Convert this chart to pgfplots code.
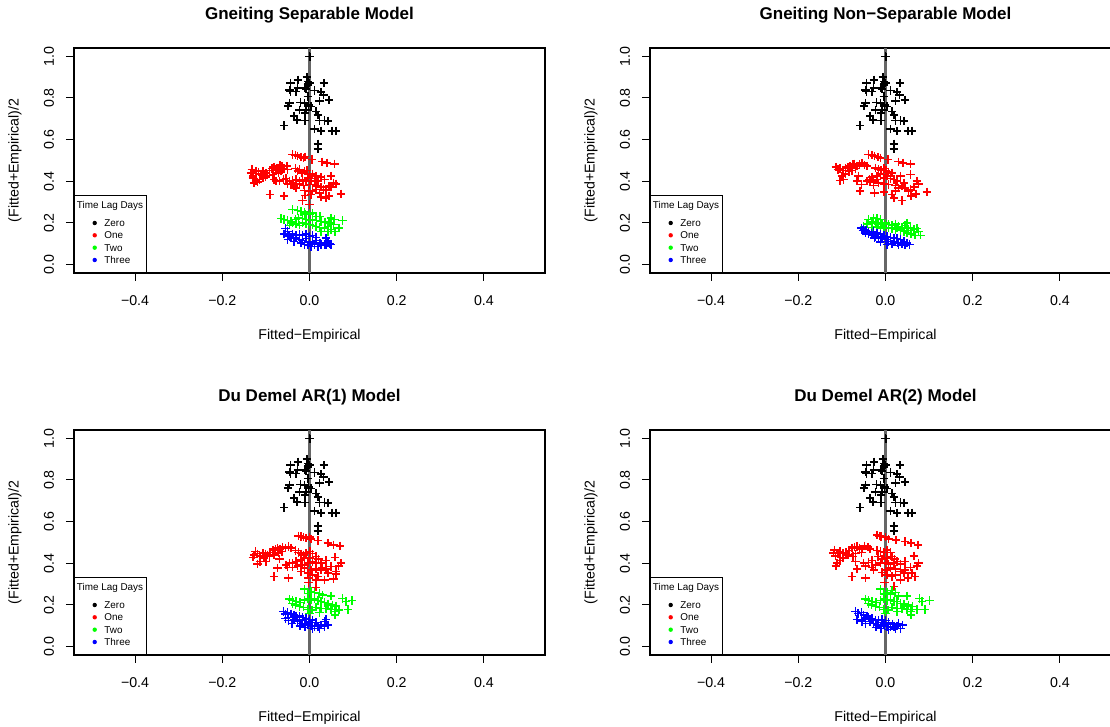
\documentclass[border=0pt]{standalone}
\usepackage{fontspec}
\setmainfont{Liberation Sans}
\usepackage{pgfplots}
\usepackage{pgfplotstable}
\pgfplotsset{compat=1.18}

\definecolor{rred}{HTML}{FF0000}
\definecolor{rgreen}{HTML}{00FF00}
\definecolor{rblue}{HTML}{0000FF}
\definecolor{vline}{HTML}{666666}

% lag zero (same in every panel)
\pgfplotstableread{
x y
0.000 1.000
0.001 0.998
-0.006 0.900
-0.003 0.879
0.000 0.871
-0.004 0.863
-0.044 0.871
-0.026 0.887
0.033 0.871
-0.046 0.839
-0.044 0.831
-0.027 0.847
-0.031 0.831
-0.012 0.850
-0.008 0.842
0.011 0.836
0.026 0.828
0.032 0.815
0.045 0.791
0.023 0.786
-0.004 0.807
-0.046 0.775
-0.049 0.762
-0.021 0.778
-0.012 0.775
-0.002 0.767
0.003 0.759
-0.023 0.743
-0.008 0.743
-0.010 0.727
0.015 0.735
0.019 0.719
-0.035 0.714
-0.029 0.695
-0.010 0.692
0.023 0.692
0.034 0.692
0.042 0.690
-0.058 0.667
0.011 0.651
0.026 0.642
0.051 0.642
0.061 0.642
0.019 0.580
0.019 0.555
}\zeroall

% ---- Gneiting separable
\pgfplotstableread{
x y
-0.039 0.529
-0.032 0.526
-0.027 0.521
-0.019 0.516
-0.014 0.513
-0.010 0.518
0.006 0.505
0.029 0.494
0.040 0.489
0.057 0.484
-0.132 0.457
-0.134 0.441
-0.129 0.425
-0.130 0.417
-0.123 0.449
-0.117 0.446
-0.111 0.436
-0.107 0.449
-0.100 0.441
-0.092 0.452
-0.086 0.462
-0.081 0.468
-0.077 0.457
-0.073 0.465
-0.068 0.478
-0.063 0.473
-0.058 0.462
-0.052 0.473
-0.050 0.457
-0.065 0.449
-0.071 0.441
-0.084 0.433
-0.096 0.429
-0.101 0.420
-0.107 0.417
-0.115 0.409
-0.123 0.401
-0.127 0.393
-0.119 0.397
-0.081 0.409
-0.077 0.401
-0.032 0.462
-0.027 0.449
-0.023 0.457
-0.017 0.441
-0.012 0.449
-0.006 0.452
0.000 0.433
0.007 0.436
-0.004 0.417
0.003 0.413
0.015 0.425
0.026 0.420
0.034 0.409
0.019 0.401
0.011 0.404
0.003 0.401
-0.008 0.401
-0.016 0.409
-0.023 0.401
-0.031 0.409
-0.039 0.404
-0.046 0.401
-0.054 0.413
-0.060 0.409
-0.069 0.401
-0.050 0.388
-0.042 0.385
-0.035 0.377
-0.023 0.388
-0.014 0.381
0.000 0.385
0.015 0.377
0.026 0.372
0.049 0.425
0.055 0.393
0.061 0.388
0.045 0.377
0.038 0.356
0.032 0.361
0.015 0.361
0.007 0.353
-0.002 0.353
-0.012 0.356
-0.031 0.369
-0.058 0.329
-0.091 0.337
-0.010 0.333
0.003 0.337
-0.016 0.308
0.000 0.288
0.026 0.324
0.038 0.321
0.045 0.329
0.072 0.340
0.023 0.345
0.049 0.372
}\oneA
\pgfplotstableread{
x y
-0.039 0.264
-0.027 0.260
-0.019 0.256
-0.012 0.253
-0.010 0.244
0.000 0.240
0.007 0.248
0.015 0.232
0.024 0.232
-0.065 0.221
-0.058 0.216
-0.050 0.212
-0.042 0.208
-0.032 0.216
-0.025 0.224
-0.016 0.221
-0.008 0.216
0.000 0.212
0.007 0.216
0.016 0.212
0.026 0.208
0.036 0.205
0.045 0.200
0.049 0.224
0.057 0.216
0.076 0.212
0.068 0.176
0.059 0.160
0.049 0.168
0.042 0.184
0.034 0.176
0.023 0.179
0.015 0.184
0.007 0.189
0.000 0.192
-0.008 0.196
-0.016 0.200
-0.023 0.189
-0.031 0.196
-0.039 0.200
-0.046 0.189
0.042 0.160
0.026 0.160
0.055 0.192
}\twoA
\pgfplotstableread{
x y
-0.055 0.173
-0.050 0.160
-0.058 0.147
-0.048 0.141
-0.039 0.147
-0.031 0.141
-0.023 0.144
-0.016 0.141
-0.008 0.147
0.000 0.136
0.007 0.141
0.015 0.131
-0.031 0.128
-0.023 0.120
-0.016 0.115
-0.008 0.125
0.000 0.112
0.007 0.104
0.015 0.115
0.024 0.104
0.034 0.096
0.042 0.104
0.049 0.096
-0.019 0.104
-0.012 0.096
-0.004 0.093
0.003 0.088
0.011 0.096
0.019 0.088
0.026 0.096
0.038 0.128
-0.035 0.112
-0.042 0.128
-0.050 0.120
-0.046 0.136
0.038 0.093
0.047 0.099
}\threeA

% ---- Gneiting non-separable
\pgfplotstableread{
x y
-0.039 0.529
-0.031 0.526
-0.025 0.521
-0.017 0.516
-0.012 0.513
0.006 0.505
0.030 0.494
0.040 0.489
0.057 0.484
-0.114 0.468
-0.109 0.457
-0.104 0.462
-0.098 0.452
-0.092 0.462
-0.086 0.468
-0.081 0.473
-0.075 0.481
-0.071 0.484
-0.065 0.473
-0.060 0.481
-0.054 0.487
-0.048 0.478
-0.042 0.473
-0.069 0.462
-0.077 0.452
-0.084 0.446
-0.092 0.436
-0.100 0.425
-0.096 0.409
-0.104 0.404
-0.062 0.425
-0.065 0.401
-0.055 0.385
-0.058 0.353
-0.023 0.465
-0.016 0.457
-0.010 0.452
-0.004 0.462
0.001 0.452
0.007 0.446
0.015 0.441
-0.012 0.436
-0.019 0.425
-0.031 0.420
-0.037 0.409
-0.042 0.401
-0.035 0.397
-0.027 0.401
-0.019 0.409
-0.004 0.417
0.003 0.425
0.011 0.413
0.019 0.409
0.026 0.401
0.034 0.425
0.057 0.433
0.042 0.393
0.038 0.377
0.030 0.369
0.023 0.381
0.007 0.385
-0.004 0.388
-0.016 0.393
-0.027 0.381
-0.025 0.345
-0.004 0.349
0.019 0.321
0.038 0.308
0.015 0.337
0.023 0.353
0.045 0.369
0.057 0.361
0.072 0.401
0.076 0.388
0.070 0.340
0.059 0.329
0.095 0.349
0.053 0.353
0.065 0.372
}\oneB
\pgfplotstableread{
x y
-0.039 0.216
-0.027 0.224
-0.019 0.221
-0.012 0.216
-0.031 0.205
-0.042 0.196
-0.050 0.184
-0.023 0.200
-0.016 0.192
-0.008 0.196
0.000 0.200
0.007 0.192
0.015 0.189
0.023 0.196
0.030 0.184
0.038 0.179
0.045 0.189
0.049 0.200
0.057 0.176
0.065 0.168
0.072 0.173
0.076 0.160
0.080 0.141
0.068 0.141
0.059 0.147
0.049 0.152
0.042 0.160
0.034 0.163
0.023 0.168
0.015 0.173
0.007 0.176
-0.004 0.179
-0.012 0.176
-0.019 0.184
-0.031 0.179
0.026 0.176
0.053 0.163
}\twoB
\pgfplotstableread{
x y
-0.055 0.176
-0.050 0.168
-0.045 0.163
-0.039 0.157
-0.032 0.152
-0.027 0.160
-0.019 0.152
-0.012 0.147
-0.004 0.141
0.003 0.136
0.011 0.131
0.019 0.128
0.026 0.125
0.034 0.120
0.042 0.112
0.049 0.104
0.055 0.096
0.045 0.093
0.038 0.099
0.029 0.104
0.019 0.109
0.007 0.112
0.000 0.120
-0.008 0.125
-0.016 0.131
-0.023 0.136
-0.031 0.141
-0.039 0.147
-0.046 0.152
-0.052 0.163
-0.025 0.128
-0.012 0.109
0.003 0.096
0.015 0.099
0.030 0.093
}\threeB

% ---- Du Demel AR(1)
\pgfplotstableread{
x y
-0.025 0.532
-0.019 0.529
-0.014 0.526
-0.008 0.521
0.000 0.526
0.003 0.516
0.019 0.510
0.042 0.497
0.055 0.489
0.070 0.484
-0.124 0.457
-0.127 0.441
-0.130 0.429
-0.119 0.446
-0.114 0.436
-0.107 0.449
-0.101 0.446
-0.096 0.441
-0.091 0.452
-0.084 0.462
-0.078 0.468
-0.073 0.473
-0.068 0.468
-0.062 0.478
-0.055 0.473
-0.048 0.481
-0.042 0.473
-0.063 0.457
-0.071 0.449
-0.081 0.441
-0.092 0.433
-0.104 0.425
-0.114 0.409
-0.119 0.397
-0.100 0.409
-0.069 0.420
-0.073 0.377
-0.081 0.337
-0.048 0.329
-0.032 0.462
-0.025 0.452
-0.019 0.446
-0.014 0.441
-0.008 0.449
0.001 0.457
0.007 0.446
0.015 0.433
0.021 0.420
0.000 0.425
-0.012 0.425
-0.019 0.417
-0.031 0.409
-0.039 0.401
-0.046 0.401
-0.054 0.393
-0.050 0.381
-0.039 0.381
-0.027 0.388
-0.016 0.393
-0.004 0.401
0.007 0.409
0.015 0.401
0.026 0.401
0.038 0.413
0.059 0.429
0.072 0.401
0.067 0.388
0.049 0.385
0.038 0.372
0.026 0.369
0.015 0.372
0.003 0.369
-0.004 0.353
0.007 0.345
0.019 0.337
0.042 0.353
0.061 0.361
0.055 0.324
0.034 0.321
0.015 0.321
-0.002 0.329
-0.002 0.308
0.061 0.349
0.030 0.381
-0.012 0.377
-0.019 0.361
0.015 0.285
}\oneC
\pgfplotstableread{
x y
-0.012 0.276
0.003 0.264
-0.004 0.256
0.011 0.260
0.023 0.256
0.030 0.248
0.049 0.244
-0.046 0.228
-0.039 0.221
-0.031 0.216
-0.022 0.212
-0.012 0.224
-0.004 0.232
0.003 0.224
0.011 0.228
0.019 0.221
0.026 0.216
0.034 0.212
0.042 0.205
0.053 0.200
0.061 0.196
0.076 0.232
0.084 0.216
0.097 0.221
0.088 0.179
0.068 0.176
0.059 0.168
0.049 0.179
0.038 0.184
0.026 0.184
0.015 0.189
0.006 0.176
-0.004 0.179
-0.014 0.189
-0.023 0.192
-0.032 0.200
-0.039 0.208
0.000 0.160
0.023 0.163
0.059 0.152
0.042 0.200
}\twoC
\pgfplotstableread{
x y
-0.060 0.168
-0.055 0.157
-0.050 0.163
-0.042 0.157
-0.035 0.152
-0.055 0.136
-0.048 0.141
-0.039 0.141
-0.031 0.147
-0.023 0.147
-0.016 0.141
-0.008 0.136
0.000 0.131
0.007 0.128
-0.035 0.128
-0.027 0.120
-0.019 0.112
-0.012 0.109
-0.004 0.104
0.003 0.099
0.011 0.096
0.019 0.096
0.026 0.104
0.034 0.096
0.042 0.104
0.034 0.120
0.015 0.115
-0.002 0.120
-0.016 0.128
-0.022 0.099
-0.010 0.093
0.007 0.088
0.023 0.088
0.038 0.131
-0.048 0.125
-0.040 0.112
}\threeC

% ---- Du Demel AR(2)
\pgfplotstableread{
x y
-0.019 0.537
-0.014 0.532
-0.010 0.529
0.000 0.526
0.007 0.516
0.024 0.513
0.045 0.505
0.059 0.497
0.075 0.489
-0.117 0.465
-0.119 0.449
-0.115 0.436
-0.109 0.446
-0.104 0.457
-0.098 0.449
-0.091 0.452
-0.084 0.462
-0.077 0.473
-0.071 0.478
-0.065 0.481
-0.060 0.473
-0.054 0.468
-0.048 0.484
-0.040 0.478
-0.035 0.468
-0.055 0.452
-0.069 0.446
-0.075 0.433
-0.086 0.441
-0.098 0.425
-0.104 0.413
-0.111 0.401
-0.114 0.388
-0.069 0.409
-0.065 0.372
-0.077 0.337
-0.046 0.329
-0.019 0.462
-0.012 0.457
-0.004 0.452
0.003 0.465
0.011 0.452
0.015 0.433
0.021 0.420
0.003 0.425
-0.008 0.420
-0.017 0.433
-0.031 0.413
-0.039 0.404
-0.050 0.401
-0.046 0.388
-0.031 0.381
-0.023 0.393
-0.012 0.401
0.000 0.404
0.007 0.397
0.019 0.401
0.026 0.409
0.034 0.397
0.045 0.409
0.065 0.436
0.076 0.401
0.072 0.388
0.057 0.381
0.045 0.369
0.034 0.361
0.023 0.372
0.011 0.377
0.000 0.369
-0.008 0.356
0.003 0.345
0.023 0.345
0.042 0.353
0.061 0.353
0.068 0.337
0.052 0.329
0.034 0.321
0.015 0.337
-0.002 0.308
0.019 0.288
-0.027 0.369
}\oneD
\pgfplotstableread{
x y
-0.012 0.276
0.015 0.269
0.003 0.260
-0.004 0.253
0.011 0.253
0.023 0.260
0.030 0.244
0.049 0.244
-0.046 0.228
-0.039 0.221
-0.031 0.216
-0.022 0.212
-0.012 0.221
-0.004 0.228
0.003 0.221
0.011 0.224
0.019 0.216
0.026 0.216
0.034 0.208
0.042 0.205
0.053 0.200
0.062 0.192
0.078 0.232
0.084 0.216
0.101 0.221
0.091 0.179
0.072 0.179
0.059 0.168
0.049 0.179
0.038 0.184
0.026 0.184
0.015 0.189
0.006 0.176
-0.004 0.179
-0.014 0.189
-0.023 0.192
-0.032 0.200
-0.039 0.208
0.000 0.160
0.026 0.168
0.059 0.152
0.042 0.196
}\twoD
\pgfplotstableread{
x y
-0.069 0.168
-0.063 0.160
-0.055 0.163
-0.050 0.152
-0.042 0.147
-0.065 0.131
-0.055 0.128
-0.046 0.136
-0.039 0.141
-0.031 0.136
-0.023 0.128
-0.016 0.125
-0.008 0.131
0.000 0.125
0.007 0.115
-0.035 0.120
-0.027 0.112
-0.019 0.104
-0.012 0.099
-0.004 0.104
0.003 0.096
0.011 0.093
0.019 0.096
0.026 0.099
0.034 0.088
0.039 0.104
0.030 0.112
0.016 0.109
-0.008 0.115
-0.022 0.093
-0.010 0.088
0.007 0.083
0.023 0.086
-0.046 0.112
-0.054 0.120
}\threeD

\pgfplotsset{
  panel/.style={
    scale only axis, width=235.5pt, height=112.5pt,
    xmin=-0.54, xmax=0.54, ymin=-0.04, ymax=1.04,
    axis line style={line width=0.6pt},
    tick pos=left, tick align=outside, major tick length=4pt,
    tick style={black, line width=0.5pt},
    xtick={-0.4,-0.2,0,0.2,0.4},
    xticklabels={−0.4,−0.2,0.0,0.2,0.4},
    ytick={0,0.2,0.4,0.6,0.8,1},
    yticklabels={0.0,0.2,0.4,0.6,0.8,1.0},
    tick label style={font=\fontsize{7.1}{8}\selectfont},
    xticklabel style={anchor=center, yshift=-10pt},
    yticklabel style={anchor=center, xshift=-8.5pt, rotate=90},
    every axis x label/.style={at={(axis description cs:0.5,0)}, anchor=center, yshift=-31.5pt, font=\fontsize{7.1}{8}\selectfont},
    every axis y label/.style={at={(axis description cs:0,0.5)}, anchor=center, xshift=-29.5pt, rotate=90, font=\fontsize{7.1}{8}\selectfont},
    every axis title/.style={at={(axis description cs:0.5,1)}, anchor=center, yshift=16.5pt, font=\bfseries\fontsize{8.5}{10}\selectfont},
    xlabel={Fitted−Empirical},
    ylabel={(Fitted+Empirical)/2},
    anchor=south west,
  },
  pts/.style={only marks, mark=+, mark size=2.1pt, mark options={line width=0.75pt}},
}

\newcommand{\lagkey}[1]{%
  \draw[line width=0.5pt] (#1.south west) rectangle ([shift={(36pt,38.5pt)}]#1.south west);
  \node[font=\fontsize{4.95}{6}\selectfont, inner sep=0pt] at ([shift={(18pt,33.5pt)}]#1.south west) {Time Lag Days};
  \foreach \c/\t/\h in {black/Zero/25pt, rred/One/18.85pt, rgreen/Two/12.65pt, rblue/Three/6.5pt} {
    \fill[\c] ([shift={(10.35pt,\h)}]#1.south west) circle (1.1pt);
    \node[font=\fontsize{4.95}{6}\selectfont, inner sep=0pt, anchor=west] at ([shift={(15pt,\h)}]#1.south west) {\t};
  }
}

\newcommand{\lagplots}[3]{%
  \addplot[pts, black] table {\zeroall};
  \addplot[pts, rred] table {#1};
  \addplot[pts, rgreen] table {#2};
  \addplot[pts, rblue] table {#3};
  \addplot[vline, line width=1.1pt] coordinates {(0,-0.04) (0,1.04)};
}

\begin{document}
\begin{tikzpicture}
\begin{axis}[panel, name=tl, at={(37pt,227pt)}, title={Gneiting Separable Model}]
\lagplots{\oneA}{\twoA}{\threeA}
\end{axis}
\begin{axis}[panel, name=tr, at={(325pt,227pt)}, title={Gneiting Non−Separable Model}]
\lagplots{\oneB}{\twoB}{\threeB}
\end{axis}
\begin{axis}[panel, name=bl, at={(37pt,36pt)}, title={Du Demel AR(1) Model}]
\lagplots{\oneC}{\twoC}{\threeC}
\end{axis}
\begin{axis}[panel, name=br, at={(325pt,36pt)}, title={Du Demel AR(2) Model}]
\lagplots{\oneD}{\twoD}{\threeD}
\end{axis}
\lagkey{tl}
\lagkey{tr}
\lagkey{bl}
\lagkey{br}
\pgfresetboundingbox
\path[use as bounding box] (0,0) rectangle (555pt,363.5pt);
\end{tikzpicture}
\end{document}
